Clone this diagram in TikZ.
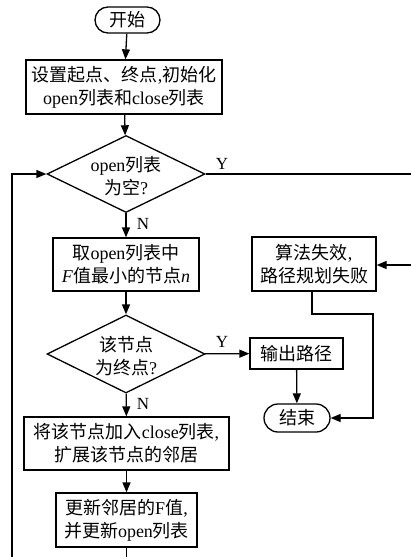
\documentclass[tikz,border=0pt]{standalone}
\usepackage{fontspec}
\setmainfont{Liberation Serif}
\newfontfamily\cjkfont{Noto Sans CJK SC}
\newcommand\zh[1]{{\cjkfont #1}}
\usetikzlibrary{shapes.geometric,arrows.meta}
\tikzset{
  every node/.style={font=\fontsize{18}{23}\selectfont},
  box/.style={draw, line width=1.3pt, align=center, inner sep=0pt},
  term/.style={box, rounded corners=13pt},
  dia/.style={draw, line width=1.3pt, diamond, inner sep=0pt},
  lbl/.style={align=center, inner sep=0pt},
  yn/.style={inner sep=0pt, font=\fontsize{17}{20}\selectfont},
  line/.style={line width=1.3pt},
  arr/.style={line, -{Triangle[length=10pt,width=8pt]}}
}
\begin{document}
\begin{tikzpicture}[x=1pt,y=-1pt]
\useasboundingbox (0,0) rectangle (410,557);
% nodes
\node[term, minimum width=65pt, minimum height=26pt] (start) at (127.5,20) {\zh{开始}};
\node[box, minimum width=196pt, minimum height=54pt] (init) at (124,87) {\zh{设置起点、终点},\zh{初始化}\\open\zh{列表和}close\zh{列表}};
\node[dia, minimum width=158pt, minimum height=77pt] (d1) at (126,174) {};
\node[lbl] (d1t) at (126,176) {open\zh{列表}\\\zh{为空}?};
\node[box, minimum width=146pt, minimum height=53pt] (take) at (126,264.5) {\zh{取}open\zh{列表中}\\\textit{F}\zh{值最小的节点}\textit{n}};
\node[dia, minimum width=158pt, minimum height=78pt] (d2) at (126,354) {};
\node[lbl] (d2t) at (126,356) {\zh{该节点}\\\zh{为终点}?};
\node[box, minimum width=93pt, minimum height=31pt] (out) at (296.5,353.5) {\zh{输出路径}};
\node[term, minimum width=66pt, minimum height=28pt, rounded corners=14pt] (end) at (297,418) {\zh{结束}};
\node[box, minimum width=124pt, minimum height=54pt] (fail) at (314,264) {\zh{算法失效},\\\zh{路径规划失败}};
\node[box, minimum width=205pt, minimum height=53pt] (close) at (126.5,443.5) {\zh{将该节点加入}close\zh{列表},\\\zh{扩展该节点的邻居}};
\node[box, minimum width=141pt, minimum height=54pt] (upd) at (126.5,520) {\zh{更新邻居的}F\zh{值},\\\zh{并更新}open\zh{列表}};
% labels
\node[yn] (y1) at (222,164) {Y};
\node[yn] (n1) at (143,224) {N};
\node[yn] (y2) at (222,342) {Y};
\node[yn] (n2) at (143,404) {N};
% coordinates
\coordinate (r1) at (416,174);
\coordinate (r2) at (416,265);
\coordinate (c1) at (373,314);
\coordinate (lb) at (12,566);
% connectors
\draw[arr] (start) -- (init);
\draw[arr] (init) -- (d1);
\draw[arr] (d1) -- (take);
\draw[arr] (take) -- (d2);
\draw[arr] (d2) -- (out);
\draw[arr] (out) -- (end);
\draw[arr] (d2) -- (close);
\draw[arr] (close) -- (upd);
\draw[arr] (d1.east) -- (r1) -- (r2) -- (fail.east |- r2);
\draw[arr] (fail.south -| 312,0) |- (c1) |- (end.east);
\draw[arr] (upd.south) |- (lb) |- (d1.west);
\end{tikzpicture}
\end{document}
